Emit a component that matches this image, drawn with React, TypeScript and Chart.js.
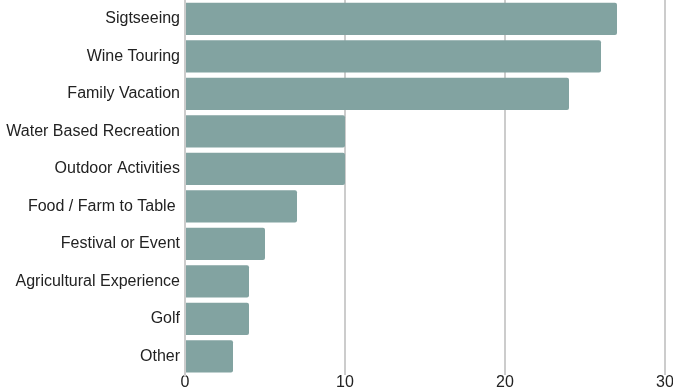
import React, { useEffect, useRef } from "react";
import { Chart, registerables } from "chart.js";

Chart.register(...registerables);

const categories = [
  "Sigtseeing",
  "Wine Touring",
  "Family Vacation",
  "Water Based Recreation",
  "Outdoor Activities",
  "Food / Farm to Table ",
  "Festival or Event",
  "Agricultural Experience",
  "Golf",
  "Other",
];
const values = [27, 26, 24, 10, 10, 7, 5, 4, 4, 3];
const xTicks = [0, 10, 20, 30];

export default function App() {
  const ref = useRef<HTMLCanvasElement>(null);
  useEffect(() => {
    document.body.style.margin = "0";
    const chart = new Chart(ref.current!, {
      type: "bar",
      data: {
        labels: categories,
        datasets: [
          {
            data: values,
            backgroundColor: "#82a3a1",
            borderRadius: 2,
            borderSkipped: "start",
            barPercentage: 0.86,
            categoryPercentage: 1,
          },
        ],
      },
      options: {
        indexAxis: "y",
        animation: false,
        responsive: false,
        devicePixelRatio: 1,
        layout: { padding: { left: 0, right: 8, top: 0, bottom: 0 } },
        plugins: { legend: { display: false }, tooltip: { enabled: false } },
        scales: {
          x: {
            min: 0,
            max: 30,
            afterBuildTicks: (s: any) => {
              s.ticks = xTicks.map((v) => ({ value: v }));
            },
            afterFit: (s: any) => {
              s.height = 14;
              s.paddingLeft = 0;
              s.paddingRight = 0;
            },
            border: { display: false },
            grid: { color: "#cccccc", lineWidth: 2, drawTicks: false },
            ticks: {
              padding: -2,
              color: "#222",
              maxRotation: 0,
              font: { family: "Liberation Sans", size: 16 },
            },
          },
          y: {
            afterFit: (s: any) => {
              s.width = 185;
              s.paddingTop = 0;
              s.paddingBottom = 0;
            },
            border: { display: true, color: "#cccccc", width: 2 },
            grid: { display: false, drawTicks: false },
            ticks: {
              padding: 5,
              color: "#222",
              font: { family: "Liberation Sans", size: 16 },
            },
          },
        },
      },
    });
    return () => chart.destroy();
  }, []);
  return (
    <div style={{ position: "fixed", left: 0, top: 0 }}>
      <canvas ref={ref} width={673} height={389} style={{ display: "block" }} />
    </div>
  );
}
